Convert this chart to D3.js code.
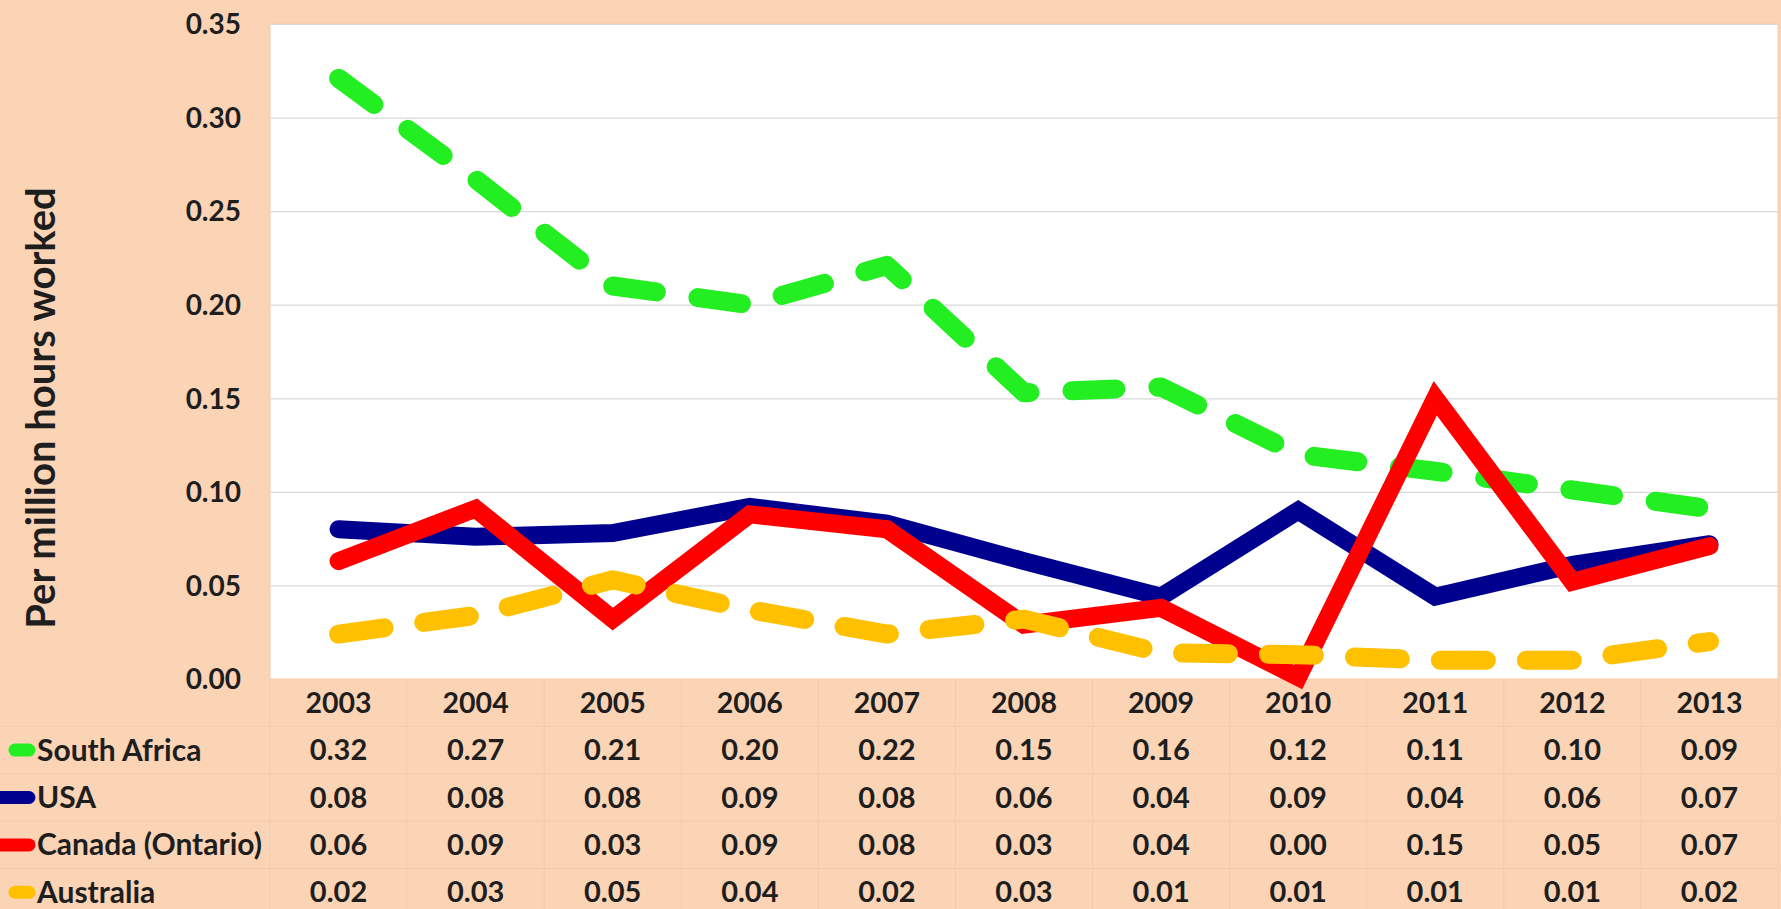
<!DOCTYPE html>
<html><head><meta charset="utf-8">
<script src="https://cdn.jsdelivr.net/npm/d3@7"></script>
<style>
html,body{margin:0;padding:0;background:#FBD4B6;}
svg{display:block;font-family:Lato, "Open Sans", sans-serif;font-weight:700;}
</style>
</head><body>
<svg id="chart" width="1781" height="909"></svg>
<script>
// ---- data ----
const years = [2003, 2004, 2005, 2006, 2007, 2008, 2009, 2010, 2011, 2012, 2013];
const seriesNames = ["South Africa", "USA", "Canada (Ontario)", "Australia"];
const southAfrica = [0.321, 0.267, 0.210, 0.200, 0.221, 0.153, 0.156, 0.120, 0.111, 0.101, 0.091];
const usa         = [0.080, 0.076, 0.078, 0.092, 0.083, 0.063, 0.044, 0.090, 0.044, 0.061, 0.072];
const canada      = [0.063, 0.091, 0.032, 0.088, 0.080, 0.029, 0.038, 0.001, 0.150, 0.052, 0.071];
const australia   = [0.024, 0.034, 0.053, 0.037, 0.024, 0.032, 0.014, 0.013, 0.010, 0.010, 0.020];
const yTicks = [0, 0.05, 0.10, 0.15, 0.20, 0.25, 0.30, 0.35];
const yTitle = "Per million hours worked";

// ---- styles ----
const styles = [
  {color: "#22EE22", width: 19, dash: "44,42"},
  {color: "#00008F", width: 18, dash: null},
  {color: "#FF0000", width: 18, dash: null},
  {color: "#FFC000", width: 19, dash: "46,40"}
];
const seriesValues = [southAfrica, usa, canada, australia];

const svg = d3.select("#chart");
const W = 1781, H = 909;
const plot = {left: 270, right: 1778, top: 24, bottom: 679};

svg.append("rect").attr("width", W).attr("height", H).attr("fill", "#FBD4B6");
svg.append("rect").attr("x", plot.left).attr("y", plot.top)
   .attr("width", plot.right - plot.left).attr("height", plot.bottom - plot.top)
   .attr("fill", "#FFFFFF").attr("stroke", "#F6CBA8").attr("stroke-width", 1);

const x = d3.scaleBand().domain(years).range([plot.left, plot.right]).padding(0);
const xc = d => x(d) + x.bandwidth() / 2;
const y = d3.scaleLinear().domain([0, 0.35]).range([plot.bottom, plot.top]);

// gridlines
const grid = svg.append("g").attr("transform", `translate(${plot.left},0)`)
  .call(d3.axisLeft(y).tickValues(yTicks.filter(t => t > 0)).tickSize(-(plot.right - plot.left)).tickFormat(""));
grid.select(".domain").remove();
grid.selectAll("line").attr("stroke", "#D9D9D9").attr("stroke-width", 1.2);

// y axis labels
const yAxis = svg.append("g").attr("transform", `translate(241,0)`)
  .call(d3.axisLeft(y).tickValues(yTicks).tickSize(0).tickPadding(0).tickFormat(d3.format(".2f")));
yAxis.select(".domain").remove();
yAxis.selectAll("text").attr("font-family", "Lato, sans-serif").attr("font-weight", 700)
  .attr("font-size", 28).attr("fill", "#1E1E1E").attr("dy", "0.35em");

// y title
svg.append("text").attr("transform", `translate(55,408) rotate(-90)`)
  .attr("text-anchor", "middle").attr("font-size", 40).attr("fill", "#1E1E1E").text(yTitle);

// lines
const line = d3.line().x((d, i) => xc(years[i])).y(d => y(d));
seriesValues.forEach((vals, k) => {
  const s = styles[k];
  svg.append("path").datum(vals).attr("d", line)
    .attr("fill", "none").attr("stroke", s.color).attr("stroke-width", s.width)
    .attr("stroke-linecap", "round").attr("stroke-linejoin", s.dash ? "round" : "miter")
    .attr("stroke-dasharray", s.dash);
});

// data table
const rowTop = plot.bottom, rowH = 47.4;
const tbl = svg.append("g");
for (let r = 1; r <= 4; r++) {
  tbl.append("line").attr("x1", 0).attr("x2", plot.right)
    .attr("y1", rowTop + r * rowH).attr("y2", rowTop + r * rowH)
    .attr("stroke", "#F1CBAD").attr("stroke-width", 1);
}
years.forEach((yr, i) => {
  const bx = x(yr);
  tbl.append("line").attr("x1", bx).attr("x2", bx).attr("y1", rowTop).attr("y2", H)
    .attr("stroke", "#F1CBAD").attr("stroke-width", 1);
});
tbl.append("line").attr("x1", plot.right).attr("x2", plot.right).attr("y1", rowTop).attr("y2", H)
  .attr("stroke", "#F1CBAD").attr("stroke-width", 1);

const fmt = d3.format(".2f");
tbl.selectAll("text.yr").data(years).join("text")
  .attr("x", d => xc(d)).attr("y", rowTop + rowH / 2).attr("dy", "0.35em")
  .attr("text-anchor", "middle").attr("font-size", 28.5).attr("fill", "#1E1E1E").text(d => d);

seriesValues.forEach((vals, k) => {
  const cy = rowTop + rowH * (k + 1.5);
  tbl.selectAll(null).data(vals).join("text")
    .attr("x", (d, i) => xc(years[i])).attr("y", cy).attr("dy", "0.35em")
    .attr("text-anchor", "middle").attr("font-size", 29).attr("fill", "#1E1E1E").text(d => fmt(d));
  // legend key
  const s = styles[k];
  const x1 = s.dash ? 15 : -10;
  tbl.append("line").attr("x1", x1).attr("x2", 29).attr("y1", cy).attr("y2", cy)
    .attr("stroke", s.color).attr("stroke-width", 13).attr("stroke-linecap", "round");
  tbl.append("text").attr("x", 37).attr("y", cy).attr("dy", "0.35em")
    .attr("font-size", 30).attr("fill", "#1E1E1E").text(seriesNames[k]);
});
</script>
</body></html>
